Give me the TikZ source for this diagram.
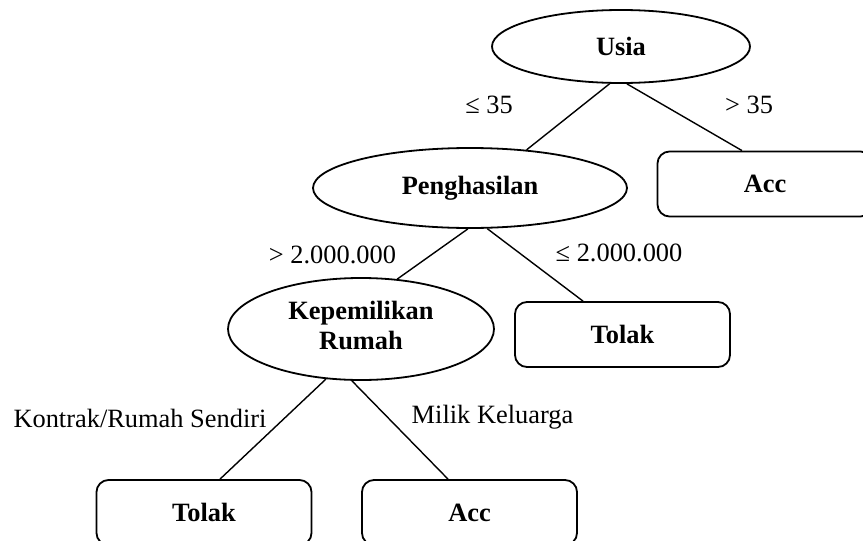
\documentclass[tikz,border=0pt]{standalone}
\usepackage{fontspec}
\setmainfont{Liberation Serif}
\usetikzlibrary{shapes.geometric}
\begin{document}
\begin{tikzpicture}[x=1pt,y=-1pt,
  txt/.style={font=\fontsize{26.4}{28}\selectfont},
  decision/.style={ellipse, draw, line width=1.8pt, inner sep=0pt,
    font=\fontsize{26.4}{28}\selectfont\bfseries},
  leaf/.style={draw, rounded corners=12pt, line width=1.8pt, minimum width=215pt,
    minimum height=65pt, inner sep=0pt, font=\fontsize{26.4}{28}\selectfont\bfseries},
  branch/.style={line width=1.4pt},
  cond/.style={txt, inner sep=0pt}]
\useasboundingbox (0,0) rectangle (863,541);
% decision nodes
\node[decision, minimum width=258pt, minimum height=73pt] (usia) at (621,46.5) {Usia};
\node[decision, minimum width=314pt, minimum height=80pt] (peng) at (470,188) {Penghasilan};
\node[decision, minimum width=266pt, minimum height=102pt] (kep) at (361,329)
  {\raisebox{-7pt}{\begin{tabular}{@{}c@{}}Kepemilikan\\[1.5pt]Rumah\end{tabular}}};
% leaves
\node[leaf] (acc1) at (765,184) {Acc};
\node[leaf] (tolak1) at (622.5,334.5) {Tolak};
\node[leaf] (tolak2) at (204,512.5) {Tolak};
\node[leaf] (acc2) at (469.5,512.5) {Acc};
% connectors
\draw[branch] (usia.253) -- (peng.34);
\draw[branch] (usia.279) -- ([xshift=-23pt]acc1.north);
\draw[branch] (peng.267) -- (kep.54);
\draw[branch] (peng.293) -- ([xshift=-39.5pt]tolak1.north);
\draw[branch] (kep.235) -- ([xshift=16pt]tolak2.north);
\draw[branch] (kep.260) -- ([xshift=-21.5pt]acc2.north);
% branch labels
\node[cond] (l1) at (489,105) {≤ 35};
\node[cond] (l2) at (749,105) {> 35};
\node[cond] (l3) at (332.5,255) {> 2.000.000};
\node[cond] (l4) at (619,253) {≤ 2.000.000};
\node[cond] (l5) at (140,418) {Kontrak/Rumah Sendiri};
\node[cond] (l6) at (492.5,417) {Milik Keluarga};
\end{tikzpicture}
\end{document}
